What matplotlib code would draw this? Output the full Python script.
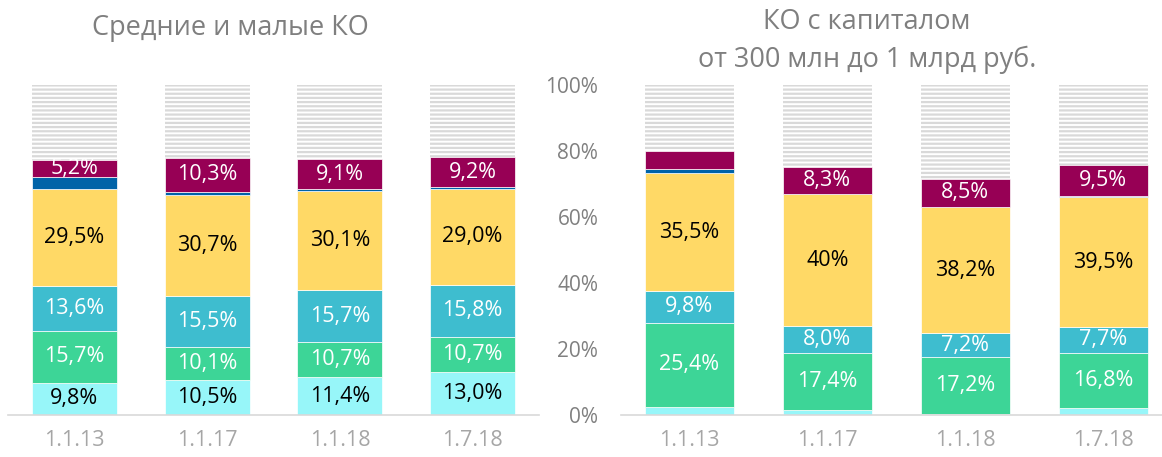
import numpy as np
import matplotlib.pyplot as plt

plt.rcParams['font.family'] = ['Open Sans', 'DejaVu Sans']
plt.rcParams['hatch.linewidth'] = 1.6

dates = ['1.1.13', '1.1.17', '1.1.18', '1.7.18']

# left panel, bottom to top
l_cyan = [9.8, 10.5, 11.4, 13.0]
l_green = [15.7, 10.1, 10.7, 10.7]
l_teal = [13.6, 15.5, 15.7, 15.8]
l_yellow = [29.5, 30.7, 30.1, 29.0]
l_blue = [3.5, 0.8, 0.5, 0.5]
l_magenta = [5.2, 10.3, 9.1, 9.2]

l_cyan_lbl = ['9,8%', '10,5%', '11,4%', '13,0%']
l_green_lbl = ['15,7%', '10,1%', '10,7%', '10,7%']
l_teal_lbl = ['13,6%', '15,5%', '15,7%', '15,8%']
l_yellow_lbl = ['29,5%', '30,7%', '30,1%', '29,0%']
l_magenta_lbl = ['5,2%', '10,3%', '9,1%', '9,2%']

# right panel, bottom to top
r_cyan = [2.5, 1.5, 0.3, 2.1]
r_green = [25.4, 17.4, 17.2, 16.8]
r_teal = [9.8, 8.0, 7.2, 7.7]
r_yellow = [35.5, 40.0, 38.2, 39.5]
r_blue = [1.4, 0.1, 0.2, 0.2]
r_magenta = [5.5, 8.3, 8.5, 9.5]

r_green_lbl = ['25,4%', '17,4%', '17,2%', '16,8%']
r_teal_lbl = ['9,8%', '8,0%', '7,2%', '7,7%']
r_yellow_lbl = ['35,5%', '40%', '38,2%', '39,5%']
r_magenta_lbl = [None, '8,3%', '8,5%', '9,5%']

c_cyan = '#97f6f9'
c_green = '#3dd597'
c_teal = '#3ebdcf'
c_yellow = '#ffd966'
c_blue = '#0063a8'
c_magenta = '#970055'


def draw(ax, series, width):
    x = np.arange(len(dates))
    bottom = np.zeros(len(dates))
    for vals, color, labels, tcolor in series:
        vals = np.array(vals)
        ax.bar(x, vals, width, bottom=bottom, color=color,
               edgecolor='white', linewidth=0.5)
        if labels is not None:
            for xi, b, v, t in zip(x, bottom, vals, labels):
                if t:
                    ax.text(xi, b + v / 2, t, ha='center', va='center',
                            color=tcolor, fontsize=15.5)
        bottom += vals
    # hatched remainder up to 100%
    ax.bar(x, 100 - bottom, width, bottom=bottom, color='white',
           edgecolor='#d9d9d9', linewidth=0, hatch='----')
    ax.set_xlim(-0.5, 3.5)
    ax.set_ylim(0, 100)
    ax.set_xticks(x)
    ax.set_xticklabels(dates, color='#a6a6a6', fontsize=15.5)
    ax.tick_params(axis='x', length=0, pad=11)
    for s in ['top', 'right', 'left']:
        ax.spines[s].set_visible(False)
    ax.spines['bottom'].set_color('#d9d9d9')
    ax.spines['bottom'].set_linewidth(1.2)


fig = plt.figure(figsize=(11.62, 4.57), dpi=100)

ax1 = fig.add_axes([0.0069, 0.0919, 0.457, 0.7221])
draw(ax1, [
    (l_cyan, c_cyan, l_cyan_lbl, 'black'),
    (l_green, c_green, l_green_lbl, 'white'),
    (l_teal, c_teal, l_teal_lbl, 'white'),
    (l_yellow, c_yellow, l_yellow_lbl, 'black'),
    (l_blue, c_blue, None, 'white'),
    (l_magenta, c_magenta, l_magenta_lbl, 'white'),
], 0.64)
ax1.set_yticks([])

ax2 = fig.add_axes([0.534, 0.0919, 0.4746, 0.7221])
draw(ax2, [
    (r_cyan, c_cyan, None, 'black'),
    (r_green, c_green, r_green_lbl, 'white'),
    (r_teal, c_teal, r_teal_lbl, 'white'),
    (r_yellow, c_yellow, r_yellow_lbl, 'black'),
    (r_blue, c_blue, None, 'white'),
    (r_magenta, c_magenta, r_magenta_lbl, 'white'),
], 0.645)
ax2.set_yticks(np.arange(0, 101, 20))
ax2.set_yticklabels([f'{v}%' for v in range(0, 101, 20)], color='#808080', fontsize=15)
ax2.tick_params(axis='y', length=0, pad=16)

fig.text(230 / 1162, 1 - 28 / 457, 'Средние и малые КО', ha='center', va='center',
         color='#7f7f7f', fontsize=19.5)
fig.text(867 / 1162, 1 - 41 / 457, 'КО с капиталом\nот 300 млн до 1 млрд руб.',
         ha='center', va='center', color='#7f7f7f', fontsize=19.5, linespacing=1.42)

fig.savefig('out.png', dpi=100)
